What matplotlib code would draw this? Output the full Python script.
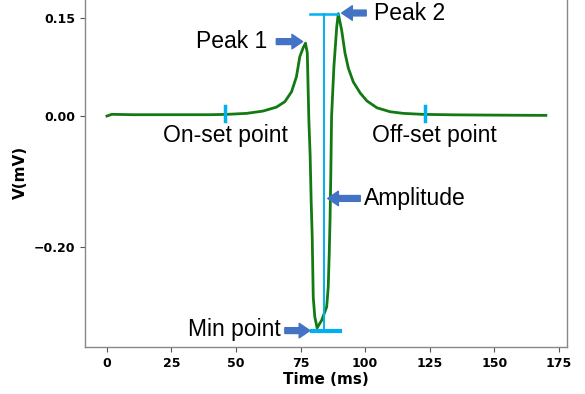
import matplotlib.pyplot as plt

# waveform (time in ms, voltage in mV)
time_ms = [0, 1.9, 10, 19.5, 30, 39.7, 46.2, 54.0, 60.4, 65.6, 68.9, 71.5, 73.4,
           74.7, 76.0, 76.9, 77.6, 77.9, 78.2, 78.7, 79.1, 79.5, 79.9, 80.5, 81.4,
           83.2, 85.1, 85.7, 86.1, 86.4, 86.7, 87.0, 87.9, 89.0, 89.6, 90.9, 92.2,
           93.5, 95.4, 98.1, 100.7, 104.6, 109.7, 114.9, 122.7, 135, 145.9, 158, 170]
volt_mv = [0.0, 0.0026, 0.002, 0.002, 0.002, 0.002, 0.0025, 0.004, 0.0075, 0.0135,
           0.0218, 0.037, 0.060, 0.0905, 0.104, 0.111, 0.096, 0.045, -0.006, -0.06,
           -0.13, -0.184, -0.276, -0.306, -0.323, -0.311, -0.291, -0.261, -0.209,
           -0.159, -0.09, -0.001, 0.075, 0.136, 0.156, 0.131, 0.096, 0.073, 0.052,
           0.035, 0.023, 0.0125, 0.0065, 0.004, 0.0025, 0.0018, 0.0015, 0.0012, 0.001]

onset_t, offset_t = 45.9, 123.0
amp_t = 84.2
peak2_v = 0.156
bottom_v = -0.328

cyan = '#00b0f0'
arrow_blue = '#4472c4'

fig = plt.figure(figsize=(5.85, 3.94), dpi=100)
ax = fig.add_axes([0.1453, 0.1193, 0.824, 0.886])

ax.plot(time_ms, volt_mv, color='#137a13', lw=2)

# amplitude bracket
ax.plot([78.6, 89.5], [peak2_v, peak2_v], color=cyan, lw=1.8)
ax.plot([amp_t, amp_t], [peak2_v, bottom_v], color=cyan, lw=1.4)
ax.plot([79.3, 90.3], [bottom_v, bottom_v], color=cyan, lw=3)
# on-set / off-set marks
for t in (onset_t, offset_t):
    ax.plot([t, t], [-0.007, 0.016], color=cyan, lw=2.5)

arrow = dict(arrowstyle='simple,head_width=0.95,head_length=0.7,tail_width=0.38',
             color=arrow_blue, mutation_scale=11, shrinkA=0, shrinkB=0)
txt = dict(fontsize=16.5, family='Liberation Sans', va='center')

ax.annotate('', xy=(75.8, 0.1134), xytext=(65.6, 0.1134), arrowprops=arrow)
ax.text(61.9, 0.1134, 'Peak 1', ha='right', **txt)
ax.annotate('', xy=(90.9, 0.157), xytext=(100.4, 0.157), arrowprops=arrow)
ax.text(103.5, 0.157, 'Peak 2', ha='left', **txt)
ax.annotate('', xy=(85.5, -0.1256), xytext=(98.1, -0.1256), arrowprops=arrow)
ax.text(99.6, -0.1256, 'Amplitude', ha='left', **txt)
ax.annotate('', xy=(78.6, -0.327), xytext=(68.9, -0.327), arrowprops=arrow)
ax.text(67.3, -0.325, 'Min point', ha='right', **txt)
ax.text(45.8, -0.029, 'On-set point', ha='center', **txt)
ax.text(126.8, -0.029, 'Off-set point', ha='center', **txt)

ax.set_xlim(-8.5, 178.2)
ax.set_ylim(-0.352, 0.18)
ax.set_xticks([0, 25, 50, 75, 100, 125, 150, 175])
ax.set_yticks([-0.20, 0.00, 0.15])
ax.set_xlabel('Time (ms)', fontsize=11, fontweight='bold', labelpad=2)
ax.set_ylabel('V(mV)', fontsize=11, fontweight='bold')
for lbl in ax.get_xticklabels() + ax.get_yticklabels():
    lbl.set_fontweight('bold')
    lbl.set_fontsize(9)
ax.tick_params(colors='#555555', labelcolor='black', width=0.8)
for s in ax.spines.values():
    s.set_color('#888888')
    s.set_linewidth(1)

fig.savefig('out.png', dpi=100)
